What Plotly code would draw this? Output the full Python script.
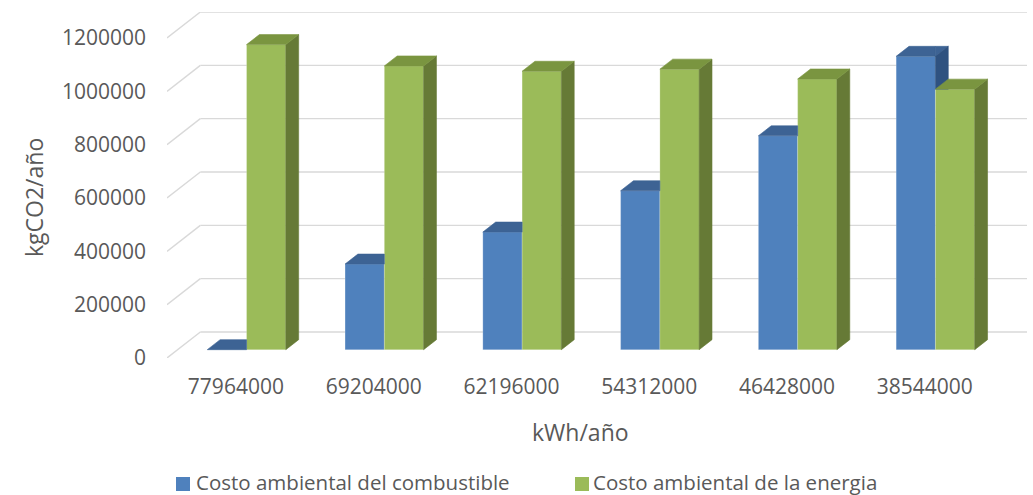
import plotly.graph_objects as go

# Data
categories = ["77964000", "69204000", "62196000", "54312000", "46428000", "38544000"]
combustible = [0, 321000, 441000, 596000, 802000, 1100000]
energia = [1144000, 1064000, 1044000, 1052000, 1015000, 977000]
y_ticks = [0, 200000, 400000, 600000, 800000, 1000000, 1200000]

series_names = ["Costo ambiental del combustible", "Costo ambiental de la energia"]

# Colours: front, top, side for each series
BLUE = ("#4F81BD", "#3D6394", "#2F5280")
GREEN = ("#9BBB59", "#7A9540", "#667A36")
GRID = "#D9D9D9"
TEXT = "#595959"
FONT = "Open Sans"

# Figure / plot-area geometry (px)
W, H = 1033, 495
M_L, M_R, M_T, M_B = 167, 6, 12, 137
PW, PH = W - M_L - M_R, H - M_T - M_B

# Oblique projection of the chart box (data units)
DX = 0.242       # depth of the box along x (category units)
DY = 97500       # depth of the box along y (value units)
F_FRONT = 0.32   # depth fraction where bar fronts sit
F_DEPTH = 0.385  # depth fraction of a bar
BAR_W = 0.285    # bar width (category units)
Y_MAX = y_ticks[-1]

fx0, fy0 = F_FRONT * DX, F_FRONT * DY
ddx, ddy = F_DEPTH * DX, F_DEPTH * DY


def px_to_paper(px, py):
    return (px - M_L) / PW, (H - M_B - py) / PH


def clip(poly, keep):
    """Sutherland-Hodgman clip of a polygon against a half-plane.
    keep = (axis, value, sign): keeps points where sign*(p[axis]-value) >= 0."""
    axis, val, sgn = keep
    out = []
    n = len(poly)
    for i in range(n):
        a, b = poly[i], poly[(i + 1) % n]
        ina = sgn * (a[axis] - val) >= -1e-9
        inb = sgn * (b[axis] - val) >= -1e-9
        if ina:
            out.append(a)
        if ina != inb:
            t = (val - a[axis]) / (b[axis] - a[axis])
            out.append((a[0] + t * (b[0] - a[0]), a[1] + t * (b[1] - a[1])))
    return out


def side_face(xr, b, t):
    return [(xr, b), (xr, t), (xr + ddx, t + ddy), (xr + ddx, b + ddy)]


def top_face(xl, xr, t):
    return [(xl, t), (xr, t), (xr + ddx, t + ddy), (xl + ddx, t + ddy)]


def area(poly):
    s = 0
    for i in range(len(poly)):
        x1, y1 = poly[i]
        x2, y2 = poly[(i + 1) % len(poly)]
        s += x1 * y2 - x2 * y1
    return abs(s) / 2


fig = go.Figure()

# Front faces of the columns
for name, vals, col, off in [(series_names[0], combustible, BLUE, -BAR_W),
                             (series_names[1], energia, GREEN, 0.0)]:
    fig.add_trace(go.Bar(
        x=[i + fx0 for i in range(len(categories))],
        y=vals,
        base=fy0,
        width=BAR_W,
        offset=off,
        name=name,
        showlegend=False,
        marker=dict(color=col[0], line=dict(width=0.8, color="rgba(255,255,255,0.25)")),
        hoverinfo="skip",
    ))

faces = []
for i in range(len(categories)):
    c = i + fx0
    b = fy0
    # blue column (left), partly hidden behind the green front face
    xl, xr = c - BAR_W, c
    t = b + combustible[i]
    g = b + energia[i]
    for poly in (clip(top_face(xl, xr, t), (0, xr, -1)),
                 clip(clip(top_face(xl, xr, t), (0, xr, 1)), (1, g, 1))):
        faces.append((poly, BLUE[1]))
    faces.append((clip(side_face(xr, b, t), (1, g, 1)), BLUE[2]))
    # green column (right)
    xl, xr = c, c + BAR_W
    faces.append((side_face(xr, b, g), GREEN[2]))
    faces.append((top_face(xl, xr, g), GREEN[1]))

for poly, col in faces:
    if len(poly) < 3 or area(poly) < 1e-6:
        continue
    xs = [p[0] for p in poly] + [poly[0][0]]
    ys = [p[1] for p in poly] + [poly[0][1]]
    fig.add_trace(go.Scatter(
        x=xs, y=ys, mode="lines", fill="toself", fillcolor=col,
        line=dict(width=0.6, color=col), showlegend=False, hoverinfo="skip",
    ))

# Back wall gridlines and their slanted side-wall continuations
shapes = []
for v in y_ticks:
    shapes.append(dict(type="line", xref="x", yref="y", layer="below",
                       x0=-0.5 + DX, x1=len(categories) - 0.5 + DX, y0=v + DY, y1=v + DY,
                       line=dict(color=GRID, width=1.4)))
    shapes.append(dict(type="line", xref="x", yref="y", layer="below",
                       x0=-0.5, x1=-0.5 + DX, y0=v, y1=v + DY,
                       line=dict(color=GRID, width=1.4)))

# Legend: colour key squares and labels below the chart
annotations = []
legend_items = [(series_names[0], BLUE[0], 176, 194), (series_names[1], GREEN[0], 575, 591)]
for label, col, key_x, text_x in legend_items:
    x0, y0 = px_to_paper(key_x, 491)
    x1, y1 = px_to_paper(key_x + 14, 477)
    shapes.append(dict(type="rect", xref="paper", yref="paper", x0=x0, x1=x1, y0=y0, y1=y1,
                       fillcolor=col, line=dict(width=0)))
    tx, ty = px_to_paper(text_x, 481.5)
    annotations.append(dict(text=label, xref="paper", yref="paper", x=tx, y=ty,
                            xanchor="left", yanchor="middle", showarrow=False,
                            font=dict(size=20.5, color=TEXT)))

annotations += [
    dict(text="kWh/año", xref="x", yref="paper", x=(len(categories) - 1) / 2,
         y=px_to_paper(0, 432)[1], xanchor="center", yanchor="middle", showarrow=False,
         font=dict(size=23, color=TEXT)),
    dict(text="kgCO2/año", xref="paper", yref="y", x=px_to_paper(34, 0)[0], y=Y_MAX / 2,
         xanchor="center", yanchor="middle", textangle=-90, showarrow=False,
         font=dict(size=23, color=TEXT)),
]

fig.update_layout(
    width=W, height=H,
    margin=dict(l=M_L, r=M_R, t=M_T, b=M_B, autoexpand=False),
    paper_bgcolor="white", plot_bgcolor="white",
    barmode="overlay",
    showlegend=False,
    shapes=shapes,
    annotations=annotations,
    font=dict(family=FONT, size=21, color=TEXT),
    xaxis=dict(range=[-0.5, len(categories) - 0.5 + DX], tickvals=list(range(len(categories))),
               ticktext=categories, showgrid=False, zeroline=False, showline=False,
               ticks="", ticklabelstandoff=14, tickfont=dict(size=21, color=TEXT)),
    yaxis=dict(range=[0, Y_MAX + DY], tickvals=y_ticks, ticktext=[str(v) for v in y_ticks],
               showgrid=False, zeroline=False, showline=False, ticks="",
               ticklabelstandoff=20, tickfont=dict(size=21, color=TEXT)),
)

fig.write_html("out.html")
